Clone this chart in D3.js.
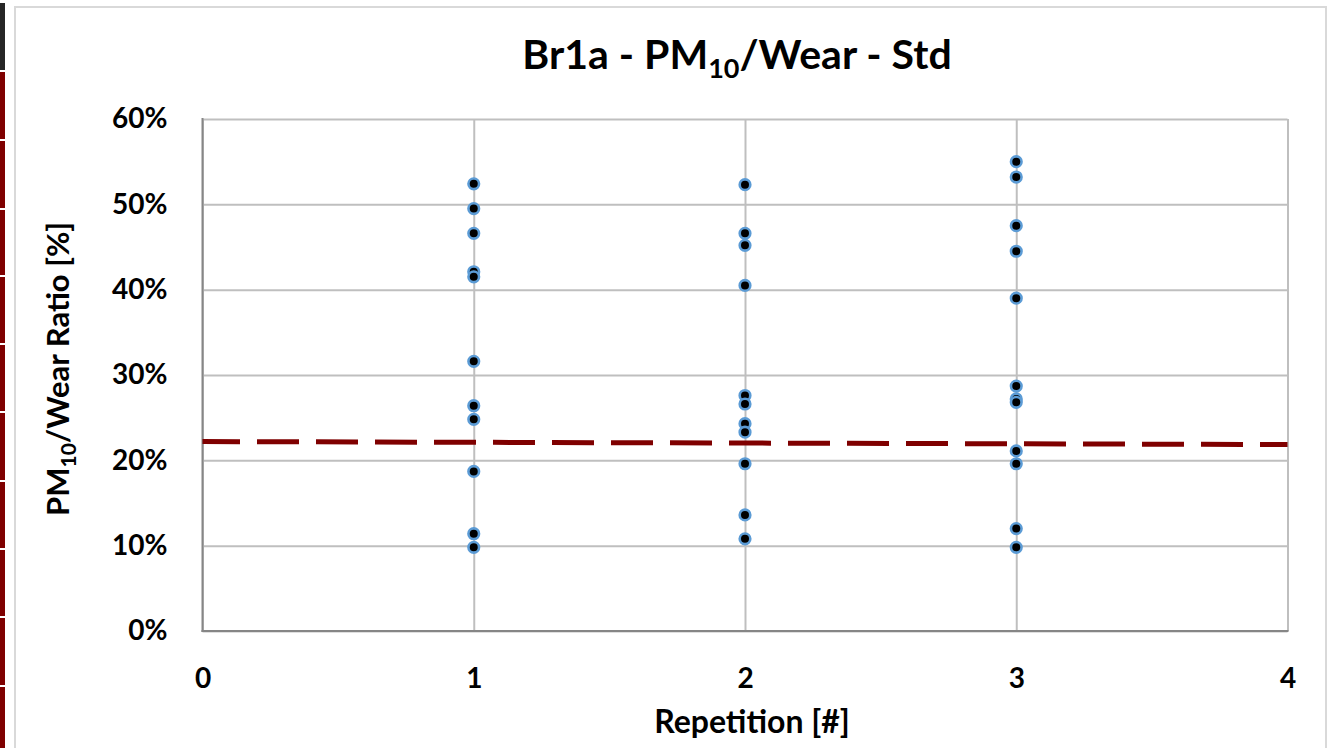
<!DOCTYPE html>
<html><head><meta charset="utf-8">
<script src="https://cdn.jsdelivr.net/npm/d3@7"></script>
<style>
html,body{margin:0;padding:0;background:#fff;}
svg{display:block;}
text{font-family:Lato,"Open Sans",sans-serif;}
</style>
</head><body>
<svg id="c" width="1332" height="748"></svg>
<script>
// ---- data ----
const repetitions = [1, 2, 3];
const rep1Values = [52.4, 49.5, 46.6, 42.1, 41.5, 31.6, 26.4, 24.8, 18.7, 11.4, 9.8];
const rep2Values = [52.3, 46.6, 45.2, 40.5, 27.6, 26.6, 24.3, 23.3, 19.6, 13.6, 10.8];
const rep3Values = [55.0, 53.2, 47.5, 44.5, 39.0, 28.7, 27.2, 26.8, 21.1, 19.6, 12.0, 9.8];
const trendX = [0, 4];
const trendY = [22.2, 21.85];
const xTicks = [0, 1, 2, 3, 4];
const yTicks = [0, 10, 20, 30, 40, 50, 60];
const titleMain = ["Br1a - PM", "10", "/Wear - Std"];
const yTitleParts = ["PM", "10", "/Wear Ratio [%]"];
const xTitle = "Repetition [#]";

const svg = d3.select("#c");

// side strip decoration
const stripEdges = [3, 72, 141, 210, 277, 345, 413, 482, 550, 618, 687, 760];
stripEdges.slice(0, -1).forEach((y0, i) => {
  const y1 = stripEdges[i + 1] - 2;
  svg.append("rect").attr("x", 0).attr("y", y0).attr("width", 5).attr("height", y1 - y0)
    .attr("fill", i === 0 ? "#262626" : "#7f0000");
});

// chart frame
svg.append("rect").attr("x", 15).attr("y", 7).attr("width", 1311).attr("height", 760)
  .attr("fill", "#fff").attr("stroke", "#d9d9d9").attr("stroke-width", 2);

const L = 202.5, R = 1287.5, T = 119, B = 631;
const x = d3.scaleLinear().domain([0, 4]).range([L, R]);
const y = d3.scaleLinear().domain([0, 60]).range([B, T]);

// gridlines
const gx = svg.append("g").attr("transform", `translate(0,${B})`)
  .call(d3.axisBottom(x).tickValues(xTicks).tickSize(-(B - T)).tickFormat(""));
gx.selectAll(".tick line").attr("stroke", "#bfbfbf").attr("stroke-width", 2);
gx.select(".domain").remove();
const gy = svg.append("g").attr("transform", `translate(${L},0)`)
  .call(d3.axisLeft(y).tickValues(yTicks).tickSize(-(R - L)).tickFormat(""));
gy.selectAll(".tick line").attr("stroke", "#bfbfbf").attr("stroke-width", 2);
gy.select(".domain").remove();

// axes lines
svg.append("line").attr("x1", L).attr("x2", L).attr("y1", T - 1).attr("y2", B + 1)
  .attr("stroke", "#868686").attr("stroke-width", 2);
svg.append("line").attr("x1", L - 1).attr("x2", R + 1).attr("y1", B).attr("y2", B)
  .attr("stroke", "#868686").attr("stroke-width", 2);

// tick labels
const xa = svg.append("g").attr("transform", `translate(0,${B})`)
  .call(d3.axisBottom(x).tickValues(xTicks).tickSize(0).tickPadding(37).tickFormat(d3.format("d")));
xa.select(".domain").remove();
xa.selectAll("text").attr("font-family", "Lato").attr("font-weight", "bold")
  .attr("font-size", 28).attr("fill", "#000");
const ya = svg.append("g").attr("transform", `translate(${L},0)`)
  .call(d3.axisLeft(y).tickValues(yTicks).tickSize(0).tickPadding(35).tickFormat(d => d + "%"));
ya.select(".domain").remove();
ya.selectAll("text").attr("font-family", "Lato").attr("font-weight", "bold")
  .attr("font-size", 28).attr("fill", "#000");

// trend line
const trend = trendX.map((d, i) => [d, trendY[i]]);
svg.append("path").datum(trend)
  .attr("d", d3.line().x(d => x(d[0])).y(d => y(d[1])))
  .attr("fill", "none").attr("stroke", "#7f0000").attr("stroke-width", 5)
  .attr("stroke-dasharray", "42,17").attr("stroke-dashoffset", 4.5);

// points
const pts = [];
[rep1Values, rep2Values, rep3Values].forEach((arr, i) => arr.forEach(v => pts.push([repetitions[i], v])));
svg.append("g").selectAll("circle").data(pts).join("circle")
  .attr("cx", d => x(d[0])).attr("cy", d => y(d[1])).attr("r", 5.3)
  .attr("fill", "#000").attr("stroke", "#5b9bd5").attr("stroke-width", 2.6);

// title
const t = svg.append("text").attr("x", 737).attr("y", 69).attr("text-anchor", "middle")
  .attr("font-weight", "bold").attr("font-size", 41).attr("fill", "#000");
t.append("tspan").text(titleMain[0]);
t.append("tspan").attr("font-size", 27).attr("dy", 9).text(titleMain[1]);
t.append("tspan").attr("dy", -9).text(titleMain[2]);

// y title
const yt = svg.append("text").attr("transform", "translate(69,369) rotate(-90)")
  .attr("text-anchor", "middle").attr("font-weight", "bold").attr("font-size", 31).attr("fill", "#000");
yt.append("tspan").text(yTitleParts[0]);
yt.append("tspan").attr("font-size", 21).attr("dy", 7).text(yTitleParts[1]);
yt.append("tspan").attr("dy", -7).text(yTitleParts[2]);

// x title
svg.append("text").attr("x", 752).attr("y", 733).attr("text-anchor", "middle")
  .attr("font-weight", "bold").attr("font-size", 32).attr("fill", "#000").text(xTitle);
</script>
</body></html>
